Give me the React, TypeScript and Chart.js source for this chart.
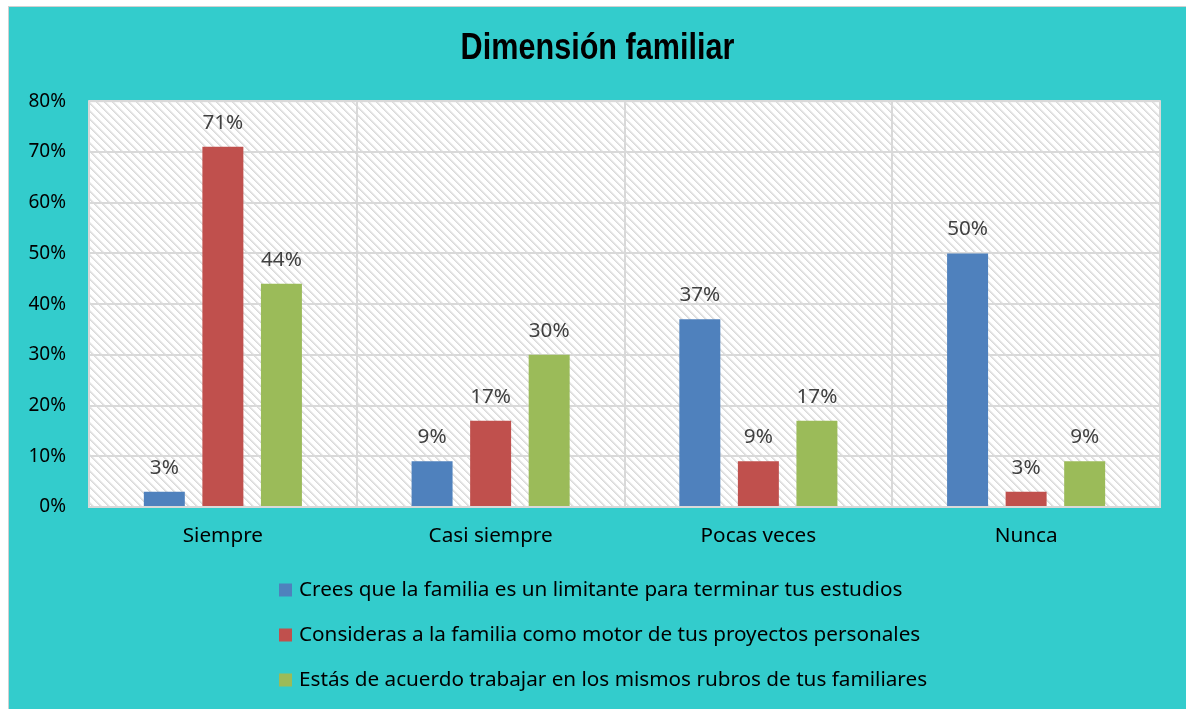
import React, { useEffect, useRef } from 'react';
import { Chart, registerables } from 'chart.js';

Chart.register(...registerables);

const title = 'Dimensión familiar';
const categories = ['Siempre', 'Casi siempre', 'Pocas veces', 'Nunca'];
const seriesNames = [
  'Crees que la familia es un limitante para terminar tus estudios',
  'Consideras a la familia como motor de tus proyectos personales',
  'Estás de acuerdo trabajar en los mismos rubros de tus familiares',
];
const limitanteValues = [3, 9, 37, 50];
const motorValues = [71, 17, 9, 3];
const rubrosValues = [44, 30, 17, 9];
const seriesColors = ['#4F81BD', '#C0504D', '#9BBB59'];
const yMin = 0;
const yMax = 80;
const yStep = 10;

const FONT = '"Noto Sans", Lato, sans-serif';
const TITLE_FONT = 'bold 36px "Liberation Sans", Arial, sans-serif';

function makePattern(ctx: CanvasRenderingContext2D) {
  const c = document.createElement('canvas');
  const n = 8;
  c.width = n;
  c.height = n;
  const p = c.getContext('2d')!;
  p.fillStyle = '#ffffff';
  p.fillRect(0, 0, n, n);
  for (let i = 0; i < n; i++) {
    p.fillStyle = '#dadada';
    p.fillRect(i, i, 1, 1);
    p.fillStyle = '#e4e4e4';
    p.fillRect((i + 1) % n, i, 1, 1);
    p.fillStyle = '#f0f0f0';
    p.fillRect((i + 2) % n, i, 1, 1);
  }
  return ctx.createPattern(c, 'repeat');
}

const plotBgPlugin = {
  id: 'plotBg',
  beforeDraw(chart: any) {
    const { ctx, chartArea } = chart;
    const { left, top, right, bottom } = chartArea;
    ctx.save();
    ctx.fillStyle = '#ffffff';
    ctx.fillRect(left, top, right - left, bottom - top);
    const pat = makePattern(ctx);
    if (pat) {
      ctx.fillStyle = pat;
      ctx.fillRect(left, top, right - left, bottom - top);
    }
    ctx.restore();
  },
  beforeDatasetsDraw(chart: any) {
    const { ctx, chartArea } = chart;
    const { left, top, right, bottom } = chartArea;
    ctx.save();
    ctx.strokeStyle = '#d9d9d9';
    ctx.lineWidth = 2;
    ctx.strokeRect(left, top, right - left, bottom - top);
    ctx.restore();
  },
};

const titlePlugin = {
  id: 'narrowTitle',
  afterDraw(chart: any) {
    const { ctx, width } = chart;
    ctx.save();
    ctx.font = TITLE_FONT;
    ctx.fillStyle = '#000000';
    ctx.textAlign = 'center';
    ctx.textBaseline = 'alphabetic';
    ctx.translate(width / 2, 52);
    ctx.scale(0.85, 1);
    ctx.fillText(title, 0, 0);
    ctx.restore();
  },
};

const dataLabelPlugin = {
  id: 'dataLabels',
  afterDatasetsDraw(chart: any) {
    const { ctx } = chart;
    ctx.save();
    ctx.font = `20.7px ${FONT}`;
    ctx.fillStyle = '#404040';
    ctx.textAlign = 'center';
    ctx.textBaseline = 'middle';
    chart.data.datasets.forEach((ds: any, di: number) => {
      const meta = chart.getDatasetMeta(di);
      meta.data.forEach((el: any, i: number) => {
        ctx.fillText(`${ds.data[i]}%`, el.x, el.y - 24);
      });
    });
    ctx.restore();
  },
};

const legendPlugin = {
  id: 'customLegend',
  afterDraw(chart: any) {
    const { ctx, chartArea } = chart;
    ctx.save();
    ctx.font = `20.7px ${FONT}`;
    ctx.textAlign = 'left';
    ctx.textBaseline = 'middle';
    const x0 = 270;
    chart.data.datasets.forEach((ds: any, i: number) => {
      const y = chartArea.bottom + 83 + i * 45;
      ctx.fillStyle = ds.backgroundColor;
      ctx.fillRect(x0, y - 6.5, 13, 13);
      ctx.fillStyle = '#000000';
      ctx.fillText(ds.label, x0 + 20, y);
    });
    ctx.restore();
  },
};

export default function App() {
  const ref = useRef<HTMLCanvasElement | null>(null);

  useEffect(() => {
    if (!ref.current) return;
    const seriesValues = [limitanteValues, motorValues, rubrosValues];
    const chart = new Chart(ref.current, {
      type: 'bar',
      data: {
        labels: categories,
        datasets: seriesValues.map((vals, i) => ({
          label: seriesNames[i],
          data: vals,
          backgroundColor: seriesColors[i],
          borderWidth: 0,
          categoryPercentage: 0.656,
          barPercentage: 0.7,
        })),
      },
      options: {
        responsive: false,
        animation: false,
        devicePixelRatio: 1,
        layout: { padding: { left: 0, right: 26, top: 0, bottom: 152 } },
        plugins: {
          legend: { display: false },
          tooltip: { enabled: false },
          title: {
            display: true,
            text: title,
            color: 'rgba(0,0,0,0)',
            font: { family: '"Liberation Sans", Arial, sans-serif', size: 36, weight: 'bold', lineHeight: 1.2 },
            padding: { top: 19, bottom: 32 },
          },
        },
        scales: {
          x: {
            grid: { display: true, offset: true, color: '#d9d9d9', lineWidth: 2, drawTicks: false },
            border: { display: false },
            ticks: { color: '#000000', font: { family: FONT, size: 20.7 }, padding: 17 },
            afterFit(scale: any) {
              scale.height = 50;
            },
          },
          y: {
            min: yMin,
            max: yMax,
            grid: { color: '#d9d9d9', lineWidth: 2, drawTicks: false },
            border: { display: false },
            ticks: {
              stepSize: yStep,
              color: '#000000',
              font: { family: FONT, size: 19 },
              padding: 23,
              callback: (v: any) => `${v}%`,
            },
            afterFit(scale: any) {
              scale.width = 80;
            },
          },
        },
      },
      plugins: [plotBgPlugin, dataLabelPlugin, legendPlugin, titlePlugin],
    });
    return () => chart.destroy();
  }, []);

  return (
    <div
      style={{
        position: 'absolute',
        left: 8,
        top: 6,
        width: 1178,
        height: 703,
        boxSizing: 'border-box',
        borderTop: '1px solid #d0d0d0',
        borderLeft: '1px solid #d0d0d0',
        background: '#33CCCC',
        overflow: 'hidden',
      }}
    >
      <canvas ref={ref} width={1177} height={702} style={{ display: 'block', width: 1177, height: 702 }} />
    </div>
  );
}
